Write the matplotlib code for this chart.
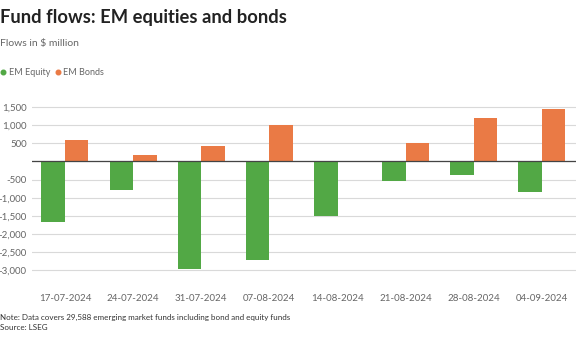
import numpy as np
import matplotlib
matplotlib.use("Agg")
import matplotlib.pyplot as plt
from matplotlib.ticker import FuncFormatter

# Data
dates = ['17-07-2024', '24-07-2024', '31-07-2024', '07-08-2024',
         '14-08-2024', '21-08-2024', '28-08-2024', '04-09-2024']
em_equity = [-1660, -790, -2960, -2710, -1500, -550, -380, -830]
em_bonds = [600, 190, 430, 1000, 0, 500, 1210, 1440]
yticks = [1500, 1000, 500, 0, -500, -1000, -1500, -2000, -2500, -3000]

green = '#52a845'
orange = '#ea7a45'
plt.rcParams['font.family'] = ['Lato', 'DejaVu Sans']

fig = plt.figure(figsize=(5.76, 3.4), dpi=100)
ax = fig.add_axes([0.056, 0.176, 0.944, 0.538])

x = np.arange(len(dates))
w = 0.345
ax.bar(x - w / 2, em_equity, width=w, color=green, zorder=3)
ax.bar(x + w / 2, em_bonds, width=w, color=orange, zorder=3)

ax.set_xlim(-0.48, 7.5)
ax.set_ylim(-3270, 1770)
ax.set_yticks(yticks)
ax.yaxis.set_major_formatter(FuncFormatter(lambda v, p: '' if v == 0 else f'{v:,.0f}'.replace('−', '-')))
ax.set_xticks(x)
ax.set_xticklabels(dates)
ax.grid(axis='y', color='#d9d9d9', linewidth=0.8, zorder=0)
ax.axhline(0, color='#444444', linewidth=0.9, zorder=4)
for s in ax.spines.values():
    s.set_visible(False)
ax.tick_params(axis='both', length=0, labelsize=7, colors='#666666')
ax.tick_params(axis='y', pad=4)
ax.tick_params(axis='x', pad=10)

fig.text(0.0, 0.948, 'Fund flows: EM equities and bonds', fontsize=13.2,
         fontweight='bold', color='#222222', va='center')
fig.text(0.0, 0.873, 'Flows in $ million', fontsize=7.5, color='#666666', va='center')

# legend dots
fig.add_artist(plt.Line2D([0.005], [0.788], marker='o', markersize=3.3, color=green,
                          linestyle='none', transform=fig.transFigure))
fig.add_artist(plt.Line2D([0.1], [0.788], marker='o', markersize=3.3, color=orange,
                          linestyle='none', transform=fig.transFigure))
fig.text(0.015, 0.788, 'EM Equity', fontsize=6.5, color='#666666', va='center')
fig.text(0.11, 0.788, 'EM Bonds', fontsize=6.5, color='#666666', va='center')

fig.text(0.0, 0.065, 'Note: Data covers 29,588 emerging market funds including bond and equity funds',
         fontsize=5.8, color='#333333', va='center')
fig.text(0.0, 0.037, 'Source: LSEG', fontsize=5.8, color='#333333', va='center')

fig.savefig('out.png', dpi=100, facecolor='white')
